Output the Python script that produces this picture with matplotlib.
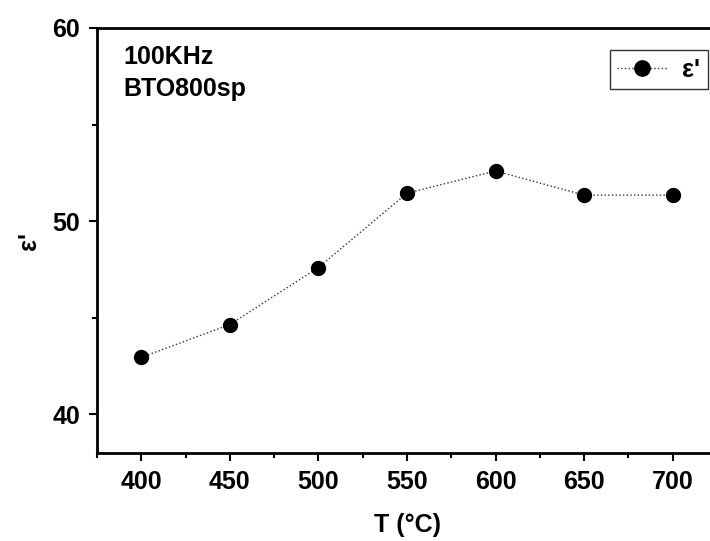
import matplotlib
matplotlib.use('Agg')
import matplotlib.pyplot as plt
from matplotlib.ticker import MultipleLocator

# annealing temperature vs dielectric constant
temps = [400, 450, 500, 550, 600, 650, 700]
eps = [42.95, 44.65, 47.6, 51.45, 52.6, 51.35, 51.35]

plt.rcParams['font.family'] = ['Liberation Sans', 'DejaVu Sans']
plt.rcParams['font.weight'] = 'bold'

fig = plt.figure(figsize=(7.1, 5.41), dpi=100)
ax = fig.add_axes([97/710, 1-453/541, 620/710, 425/541])

ax.plot(temps, eps, linestyle=':', color='#333333', linewidth=1,
        marker='o', markersize=10, markerfacecolor='black',
        markeredgecolor='black', label="ε'")

ax.set_xlim(375, 725)
ax.set_ylim(38, 60)
ax.xaxis.set_major_locator(MultipleLocator(50))
ax.xaxis.set_minor_locator(MultipleLocator(25))
ax.yaxis.set_major_locator(MultipleLocator(10))
ax.yaxis.set_minor_locator(MultipleLocator(5))

for s in ax.spines.values():
    s.set_linewidth(2)
ax.tick_params(which='major', direction='out', length=6, width=1.5,
               labelsize=18, pad=6, top=False, right=False)
ax.tick_params(which='minor', direction='out', length=3.5, width=1.5,
               top=False, right=False)
for lab in ax.get_xticklabels() + ax.get_yticklabels():
    lab.set_fontweight('bold')

ax.set_xlabel('T (°C)', fontsize=18, fontweight='bold', labelpad=14)
ax.set_ylabel("ε'", fontsize=18, fontweight='bold', labelpad=8)

ax.text(0.043, 0.96, '100KHz\nBTO800sp', transform=ax.transAxes,
        fontsize=18, fontweight='bold', va='top', ha='left', linespacing=1.4)

leg = ax.legend(loc='upper right', bbox_to_anchor=(0.985, 0.948),
                borderaxespad=0, frameon=True, fancybox=False, fontsize=18,
                handlelength=2.0, borderpad=0.3, handletextpad=0.6,
                markerscale=1.1)
leg.get_frame().set_edgecolor('black')
leg.get_frame().set_linewidth(1)
for t in leg.get_texts():
    t.set_fontweight('bold')

plt.savefig('out.png', dpi=100)
plt.close()
